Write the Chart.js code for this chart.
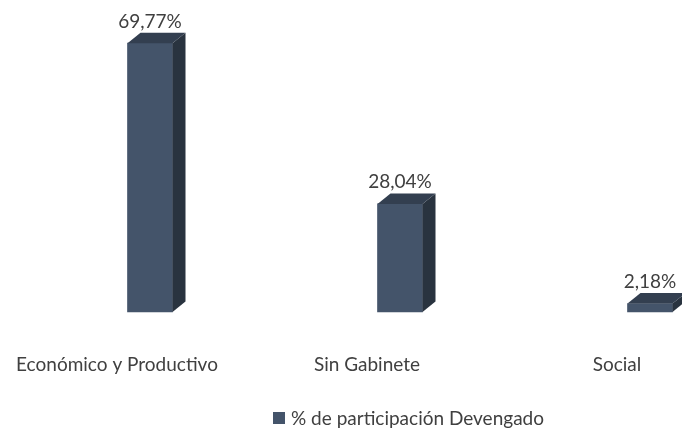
<!DOCTYPE html>
<html><head><meta charset="utf-8">
<script src="https://cdn.jsdelivr.net/npm/chart.js@4.4.0/dist/chart.umd.min.js"></script>
<style>html,body{margin:0;padding:0;background:#fff;}#wrap{width:682px;height:429px;position:relative;}</style>
</head><body><div id="wrap"><canvas id="c" width="682" height="429"></canvas></div>
<script>
const categories = ['Económico y Productivo', 'Sin Gabinete', 'Social'];
const values = [69.77, 28.04, 2.18];
const valueLabels = ['69,77%', '28,04%', '2,18%'];
const seriesName = '% de participación Devengado';

const FRONT = '#44546a', TOP = '#333f50', SIDE = '#29333f';
const FONT = '19px Lato';
const TEXT = '#404040';

const bar3d = {
  id: 'bar3d',
  afterDatasetsDraw(chart) {
    const ctx = chart.ctx;
    const meta = chart.getDatasetMeta(0);
    const dx = 13, dy = 10.5;
    ctx.save();
    meta.data.forEach((el, i) => {
      const p = el.getProps(['x', 'y', 'base', 'width'], true);
      const l = p.x - p.width / 2, r = p.x + p.width / 2;
      ctx.fillStyle = SIDE;
      ctx.beginPath();
      ctx.moveTo(r, p.y); ctx.lineTo(r + dx, p.y - dy); ctx.lineTo(r + dx, p.base - dy); ctx.lineTo(r, p.base);
      ctx.closePath(); ctx.fill();
      ctx.fillStyle = TOP;
      ctx.beginPath();
      ctx.moveTo(l, p.y); ctx.lineTo(l + dx, p.y - dy); ctx.lineTo(r + dx, p.y - dy); ctx.lineTo(r, p.y);
      ctx.closePath(); ctx.fill();
      ctx.fillStyle = TEXT; ctx.font = FONT; ctx.textAlign = 'center'; ctx.textBaseline = 'alphabetic';
      ctx.fillText(valueLabels[i], p.x, p.y - 15.5);
    });
    const xs = chart.scales.x;
    ctx.fillStyle = TEXT; ctx.font = FONT; ctx.textAlign = 'center'; ctx.textBaseline = 'alphabetic';
    categories.forEach((c, i) => {
      ctx.fillText(c, xs.getPixelForValue(i) - 33, 371);
    });
    ctx.fillStyle = FRONT;
    ctx.fillRect(273, 412, 12, 12);
    ctx.fillStyle = TEXT; ctx.textAlign = 'left';
    ctx.fillText(chart.data.datasets[0].label, 291, 425);
    ctx.restore();
  }
};

new Chart(document.getElementById('c'), {
  type: 'bar',
  data: {
    labels: categories,
    datasets: [{ label: seriesName, data: values, backgroundColor: FRONT, barThickness: 45, clip: false, borderWidth: 0 }]
  },
  options: {
    responsive: false,
    animation: false,
    devicePixelRatio: 1,
    layout: { padding: { left: 150, right: 32, top: 23, bottom: 117 } },
    plugins: { legend: { display: false }, tooltip: { enabled: false } },
    scales: {
      x: { type: 'category', offset: false, display: false },
      y: { min: 0, max: 75, display: false }
    }
  },
  plugins: [bar3d]
});
</script></body></html>
